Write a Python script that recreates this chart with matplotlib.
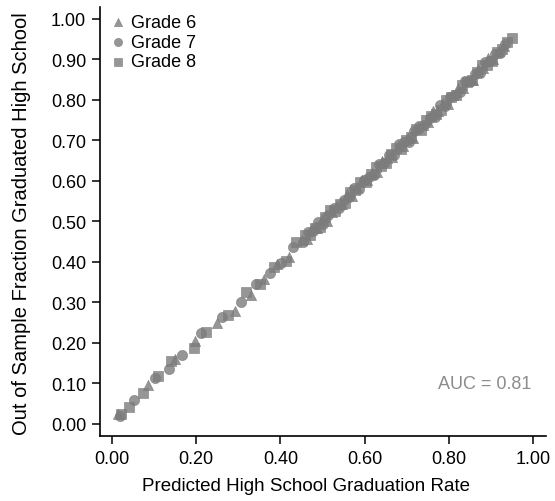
import matplotlib
matplotlib.use('Agg')
import matplotlib.pyplot as plt

plt.rcParams['font.family'] = ['Liberation Sans', 'DejaVu Sans']

# predicted rate (x) and out-of-sample fraction (y), one pair of lists per grade
g6_x = [0.015, 0.086, 0.150, 0.196, 0.248, 0.292, 0.330, 0.362, 0.392, 0.420,
        0.450, 0.462, 0.474, 0.486, 0.498, 0.510, 0.522, 0.534, 0.546, 0.558,
        0.570, 0.582, 0.594, 0.606, 0.618, 0.630, 0.642, 0.654, 0.666, 0.678,
        0.690, 0.702, 0.714, 0.726, 0.738, 0.750, 0.762, 0.774, 0.786, 0.798,
        0.810, 0.822, 0.834, 0.846, 0.858, 0.870, 0.882, 0.894, 0.906, 0.918,
        0.930]
g6_y = [0.025, 0.096, 0.160, 0.205, 0.250, 0.278, 0.318, 0.358, 0.395, 0.412,
        0.454, 0.456, 0.483, 0.484, 0.505, 0.502, 0.522, 0.540, 0.542, 0.568,
        0.563, 0.584, 0.602, 0.601, 0.619, 0.621, 0.648, 0.657, 0.660, 0.687,
        0.687, 0.707, 0.706, 0.733, 0.738, 0.745, 0.772, 0.772, 0.792, 0.791,
        0.813, 0.830, 0.830, 0.847, 0.850, 0.876, 0.880, 0.903, 0.901, 0.922,
        0.932]

g7_x = [0.018, 0.053, 0.102, 0.136, 0.166, 0.210, 0.262, 0.305, 0.342, 0.375,
        0.402, 0.430,
        0.454, 0.466, 0.478, 0.490, 0.502, 0.514, 0.526, 0.538, 0.550, 0.562,
        0.574, 0.586, 0.598, 0.610, 0.622, 0.634, 0.646, 0.658, 0.670, 0.682,
        0.694, 0.706, 0.718, 0.730, 0.742, 0.754, 0.766, 0.778, 0.790, 0.802,
        0.814, 0.826, 0.838, 0.850, 0.862, 0.874, 0.886, 0.898, 0.910, 0.922,
        0.934]
g7_y = [0.020, 0.060, 0.113, 0.136, 0.169, 0.225, 0.265, 0.300, 0.345, 0.372,
        0.396, 0.436,
        0.449, 0.473, 0.477, 0.498, 0.493, 0.517, 0.532, 0.532, 0.552, 0.559,
        0.583, 0.579, 0.602, 0.610, 0.614, 0.641, 0.644, 0.663, 0.664, 0.690,
        0.695, 0.697, 0.722, 0.736, 0.739, 0.756, 0.759, 0.787, 0.786, 0.807,
        0.813, 0.820, 0.846, 0.847, 0.865, 0.866, 0.893, 0.896, 0.914, 0.917,
        0.937]

g8_x = [0.020, 0.039, 0.073, 0.108, 0.140, 0.194, 0.224, 0.275, 0.318, 0.352,
        0.385, 0.412, 0.438,
        0.458, 0.470, 0.482, 0.494, 0.506, 0.518, 0.530, 0.542, 0.554, 0.566,
        0.578, 0.590, 0.602, 0.614, 0.626, 0.638, 0.650, 0.662, 0.674, 0.686,
        0.698, 0.710, 0.722, 0.734, 0.746, 0.758, 0.770, 0.782, 0.794, 0.806,
        0.818, 0.830, 0.842, 0.854, 0.866, 0.878, 0.890, 0.902, 0.914, 0.926,
        0.938, 0.950]
g8_y = [0.025, 0.041, 0.076, 0.118, 0.154, 0.187, 0.226, 0.270, 0.325, 0.345,
        0.388, 0.402, 0.448,
        0.466, 0.467, 0.483, 0.487, 0.511, 0.527, 0.526, 0.544, 0.546, 0.572,
        0.578, 0.597, 0.597, 0.617, 0.635, 0.636, 0.643, 0.666, 0.682, 0.680,
        0.700, 0.709, 0.729, 0.725, 0.751, 0.761, 0.766, 0.774, 0.800, 0.807,
        0.813, 0.838, 0.845, 0.848, 0.868, 0.885, 0.887, 0.895, 0.919, 0.926,
        0.942, 0.952]

ticks = [0.0, 0.1, 0.2, 0.3, 0.4, 0.5, 0.6, 0.7, 0.8, 0.9, 1.0]
xticks = [0.0, 0.2, 0.4, 0.6, 0.8, 1.0]

fig = plt.figure(figsize=(5.55, 5.02), dpi=100)
ax = fig.add_axes([0.180, 0.1295, 0.804, 0.855])

mk = dict(color='#7c7c7c', alpha=0.8, s=54, linewidths=0.5, edgecolors='#7c7c7c')
ax.scatter(g6_x, g6_y, marker='^', label='Grade 6', **mk)
ax.scatter(g7_x, g7_y, marker='o', label='Grade 7', **mk)
ax.scatter(g8_x, g8_y, marker='s', label='Grade 8', **mk)

ax.set_xlim(-0.029, 1.031)
ax.set_ylim(-0.030, 1.030)
ax.set_xticks(xticks)
ax.set_xticklabels(['%.2f' % t for t in xticks])
ax.set_yticks(ticks)
ax.set_yticklabels(['%.2f' % t for t in ticks])

for s in ['top', 'right']:
    ax.spines[s].set_visible(False)
for s in ['left', 'bottom']:
    ax.spines[s].set_linewidth(1.2)
ax.tick_params(axis='both', length=6, width=1.1, labelsize=13, pad=4)

ax.set_xlabel('Predicted High School Graduation Rate', fontsize=13.5)
ax.set_ylabel('Out of Sample Fraction Graduated High School', fontsize=14.5)
ax.xaxis.set_label_coords(0.462, -0.095)
ax.yaxis.set_label_coords(-0.155, 0.497)

ax.text(0.995, 0.099, 'AUC = 0.81', ha='right', va='center', fontsize=13, color='#8c8c8c')

ax.legend(loc='upper left', frameon=False, fontsize=13, handletextpad=0.1,
          labelspacing=0.15, borderaxespad=0.1, borderpad=0.3, markerscale=0.8,
          handlelength=1.2)

fig.savefig('out.png', dpi=100)
